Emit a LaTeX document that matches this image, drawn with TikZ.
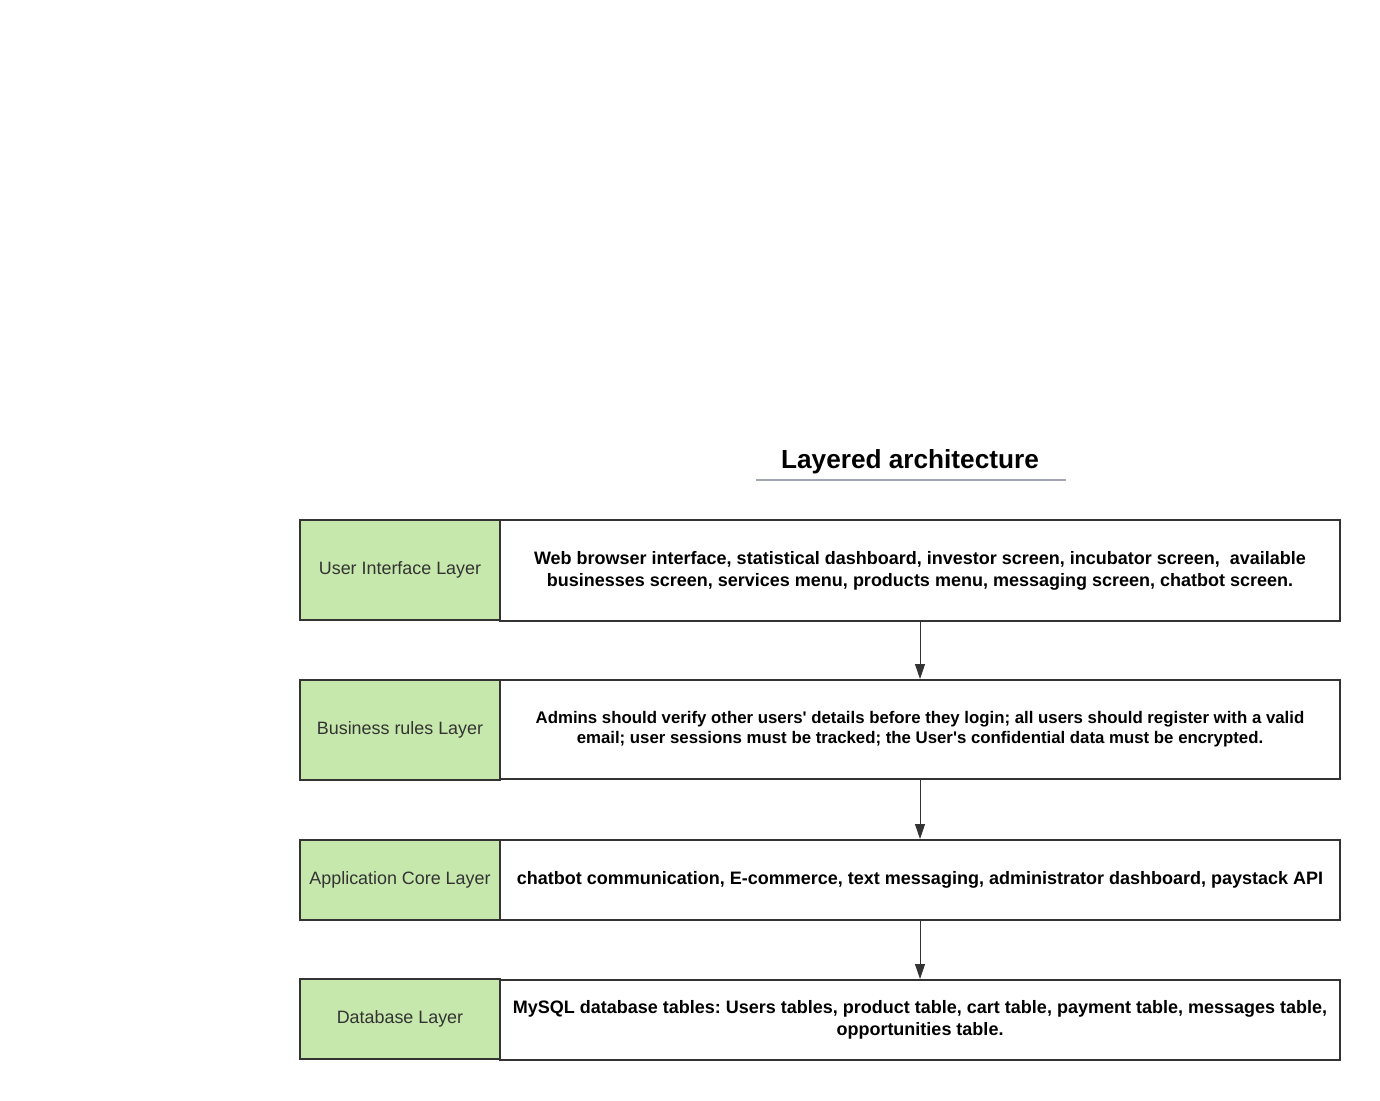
\documentclass[tikz,border=0pt]{standalone}
\usepackage{fontspec}
\setmainfont{Liberation Sans}
\usetikzlibrary{arrows.meta}
\definecolor{edge}{HTML}{333333}
\definecolor{layergreen}{HTML}{C7E8AC}
\definecolor{rulegray}{HTML}{A3A6B4}
\newcommand{\sq}{\textquotesingle}
\frenchspacing
\tikzset{
  layerbox/.style={draw=edge, line width=2pt, fill=layergreen, minimum width=200pt, inner sep=0pt, text=edge, font=\fontsize{17.9}{21}\selectfont},
  descbox/.style={draw=edge, line width=2pt, fill=white, minimum width=840pt, inner sep=0pt, align=center, font=\bfseries\fontsize{18}{22}\selectfont},
  flow/.style={draw=edge, line width=1pt, -{Triangle[length=15pt,width=10pt]}}
}
\begin{document}
\begin{tikzpicture}[x=1pt,y=1pt]
\useasboundingbox (0,0) rectangle (1380,-1100);
% title
\node[font=\bfseries\fontsize{26.2}{30}\selectfont] (title) at (910,-462) {Layered architecture};
\coordinate (ulL) at (756,-480);
\coordinate (ulR) at (1066,-480);
\draw[rulegray, line width=2pt] (ulL) -- (ulR);
% row 1
\node[layerbox, minimum height=100pt] (g1) at (400,-570) {User Interface Layer};
\node[descbox, minimum height=101pt] (w1) at (920,-570.5) {Web browser interface, statistical dashboard, investor screen, incubator screen,\ \ available\\businesses screen, services menu, products menu, messaging screen, chatbot screen.};
% row 2
\node[layerbox, minimum height=100pt] (g2) at (400,-730) {Business rules Layer};
\node[descbox, minimum height=99pt, font=\bfseries\fontsize{16.8}{20}\selectfont] (w2) at (920,-729.5) {Admins should verify other users\sq{} details before they login; all users should register with a valid\\email; user sessions must be tracked; the User\sq{}s confidential data must be encrypted.};
% row 3
\node[layerbox, minimum height=80pt] (g3) at (400,-880) {Application Core Layer};
\node[descbox, minimum height=80pt] (w3) at (920,-880) {chatbot communication, E-commerce, text messaging, administrator dashboard, paystack API};
% row 4
\node[layerbox, minimum height=80pt] (g4) at (400,-1019) {Database Layer};
\node[descbox, minimum height=80pt] (w4) at (920,-1020) {MySQL database tables: Users tables, product table, cart table, payment table, messages table,\\opportunities table.};
% arrows
\draw[flow] (w1.south) -- (w2.north);
\draw[flow] (w2.south) -- (w3.north);
\draw[flow] (w3.south) -- (w4.north);
\end{tikzpicture}
\end{document}
